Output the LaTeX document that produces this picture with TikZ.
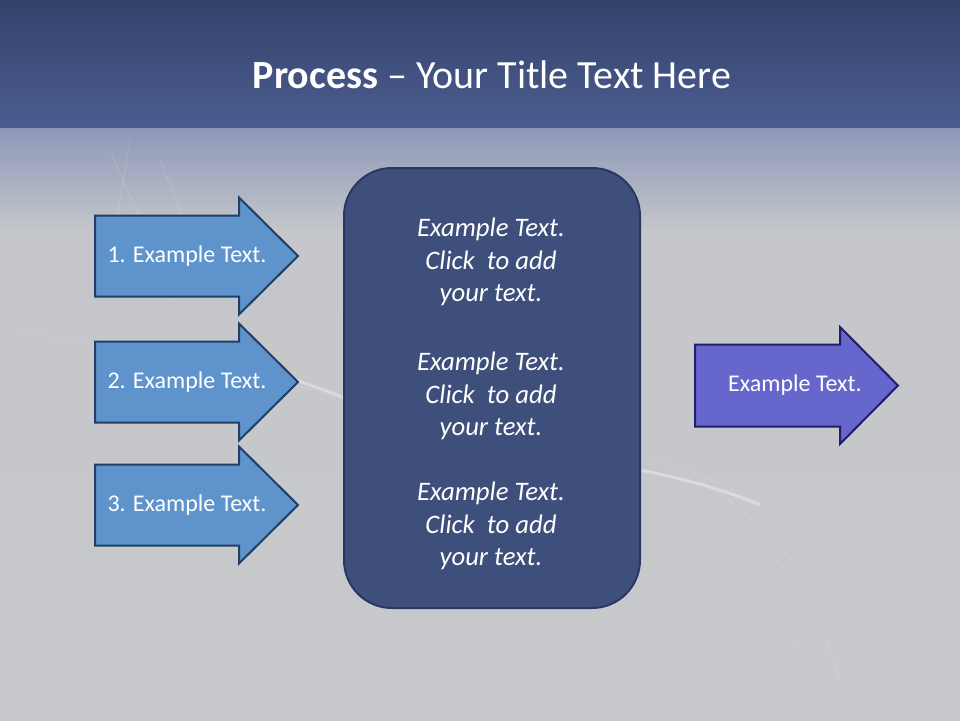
\documentclass[tikz,border=0pt]{standalone}
\usepackage{fontspec}
\setmainfont{Carlito}
\definecolor{bandtop}{HTML}{34426A}
\definecolor{bandbot}{HTML}{4B5D91}
\definecolor{mist}{HTML}{8E98B9}
\definecolor{graybg}{HTML}{C4C6CB}
\definecolor{graybot}{HTML}{C8C9CC}
\definecolor{lblue}{HTML}{5E93CB}
\definecolor{lblueline}{HTML}{1F3F66}
\definecolor{rblue}{HTML}{6666CC}
\definecolor{rblueline}{HTML}{1E1E6A}
\definecolor{cboxfill}{HTML}{3E4F7B}
\definecolor{cboxline}{HTML}{2A3760}
\tikzset{
  larrow/.style={fill=lblue, draw=lblueline, line width=2pt, line join=miter},
  rarrow/.style={fill=rblue, draw=rblueline, line width=2pt, line join=miter},
  cbox/.style={fill=cboxfill, draw=cboxline, line width=2pt, rounded corners=48pt,
    minimum width=296pt, minimum height=440pt, inner sep=0pt},
  atext/.style={text=white, font=\fontsize{24}{29}\selectfont, inner sep=0pt},
  ctext/.style={text=white, font=\fontsize{26.7}{32.2}\selectfont\itshape, align=center, inner sep=0pt},
  ttext/.style={text=white, font=\fontsize{40}{48}\selectfont, inner sep=0pt},
  streak/.style={white, opacity=0.2, line width=0.5pt}
}
\begin{document}
\begin{tikzpicture}[x=1pt,y=-1pt]
\useasboundingbox (0,0) rectangle (960,720);
% background
\shade[top color=bandtop, bottom color=bandbot] (0,0) rectangle (960,128);
\shade[top color=mist, bottom color=graybg] (0,128) rectangle (960,230);
\shade[top color=graybg, bottom color=graybot] (0,230) rectangle (960,720);
% faint streaks
\draw[streak] (110,150) -- (175,300);
\draw[streak] (130,140) -- (115,230);
\draw[streak] (160,160) -- (200,260);
\draw[streak, opacity=0.15] (20,330) .. controls (150,360) and (260,370) .. (345,400);
\draw[streak, opacity=0.35, line width=3pt] (290,378) .. controls (310,385) and (330,392) .. (345,398);
\draw[streak, opacity=0.35, line width=3pt] (640,470) .. controls (680,478) and (720,488) .. (760,505);
\draw[streak] (650,460) .. controls (700,470) and (760,500) .. (820,540);
\draw[streak] (700,480) .. controls (760,520) and (800,560) .. (830,620);
\draw[streak] (760,540) .. controls (810,600) and (830,640) .. (840,680);
\draw[streak, opacity=0.15] (660,500) .. controls (740,540) and (780,580) .. (800,650);
% title
\node[ttext] (title) at (492,75) {\textbf{Process} -- Your Title Text Here};
% left arrows
\foreach \c in {256,382,505}
  \draw[larrow] (95,\c-40.5) -- (239,\c-40.5) -- (239,\c-58.5) -- (298,\c)
    -- (239,\c+58.5) -- (239,\c+40.5) -- (95,\c+40.5) -- cycle;
\node[atext] (a1) at (187,256) {1. Example Text.};
\node[atext] (a2) at (187,382) {2. Example Text.};
\node[atext] (a3) at (187,505) {3. Example Text.};
% centre box
\node[cbox] (box) at (492,388) {};
\node[ctext] (c1) at (491,262) {Example Text.\\Click\ \ to add\\your text.};
\node[ctext] (c2) at (491,396) {Example Text.\\Click\ \ to add\\your text.};
\node[ctext] (c3) at (491,526) {Example Text.\\Click\ \ to add\\your text.};
% right arrow
\draw[rarrow] (695,344.5) -- (840,344.5) -- (840,327) -- (898,385.5)
  -- (840,444) -- (840,426.5) -- (695,426.5) -- cycle;
\node[atext] (r1) at (795,385) {Example Text.};
\end{tikzpicture}
\end{document}
